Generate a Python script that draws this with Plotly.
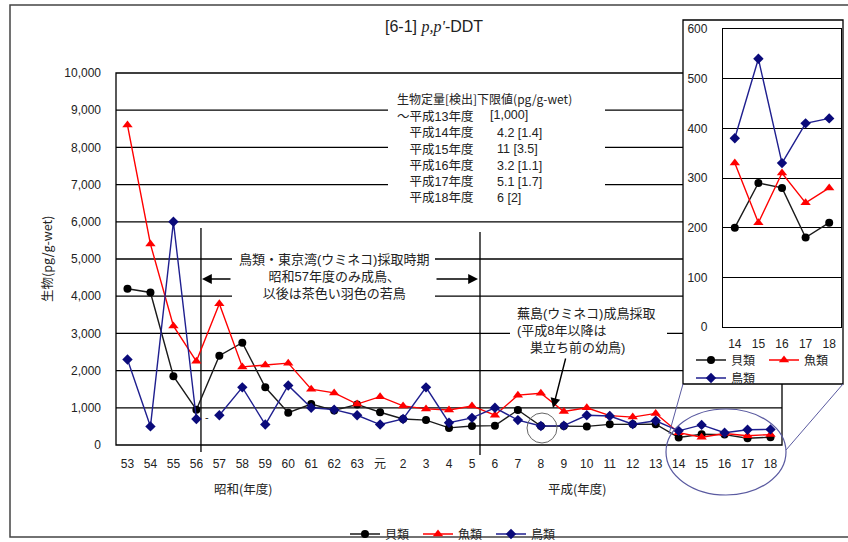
import plotly.graph_objects as go

# Survey years (Showa 53 -> Heisei 18)
years = ["53", "54", "55", "56", "57", "58", "59", "60", "61", "62", "63", "元",
         "2", "3", "4", "5", "6", "7", "8", "9", "10", "11", "12", "13",
         "14", "15", "16", "17", "18"]

# p,p'-DDT concentrations (pg/g-wet)
shellfish = [4200, 4100, 1850, 950, 2400, 2750, 1550, 870, 1100, 930, 1090, 880,
             700, 670, 460, 510, 520, 940, 510, 510, 500, 555, 555, 560,
             200, 290, 280, 180, 210]
fish = [8600, 5400, 3200, 2250, 3800, 2100, 2150, 2200, 1500, 1400, 1100, 1300,
        1050, 970, 940, 1050, 800, 1340, 1390, 900, 1000, 790, 750, 850,
        330, 210, 310, 250, 280]
birds = [2300, 500, 6000, 700, 800, 1550, 550, 1600, 1000, 950, 800, 550,
         700, 1550, 600, 730, 1000, 670, 510, 520, 800, 780, 560, 650,
         380, 540, 330, 410, 420]

series_names = ["貝類", "魚類", "鳥類"]
y_ticks = list(range(0, 10001, 1000))
inset_ticks = list(range(0, 601, 100))
inset_start = 24  # Heisei 14 onward shown in the enlarged panel

# detection limit table: [quantification] detection limit per fiscal year
limit_years = ["～平成13年度", "平成14年度", "平成15年度", "平成16年度", "平成17年度", "平成18年度"]
limit_values = ["[1,000]", "4.2 [1.4]", "11 [3.5]", "3.2 [1.1]", "5.1 [1.7]", "6 [2]"]

W, H = 848, 542


def px(x):
    return x / W


def py(y):
    return 1 - y / H


JP = "Noto Sans CJK JP"
LAT = "Liberation Sans"
MIX = "Liberation Sans, Noto Sans CJK JP"
TXT = "#222222"
C_BLACK, C_RED, C_BLUE = "#1a1a1a", "#ff0000", "#1f1f8f"
LW = 1.4

fig = go.Figure()

# ---- main panel traces ----
fig.add_trace(go.Scatter(
    x=years, y=shellfish, name=series_names[0], mode="lines+markers",
    line=dict(color=C_BLACK, width=LW),
    marker=dict(symbol="circle", size=8, color="#000000"),
    legendgroup="s", legend="legend"))
fig.add_trace(go.Scatter(
    x=years, y=fish, name=series_names[1], mode="lines+markers",
    line=dict(color=C_RED, width=LW),
    marker=dict(symbol="triangle-up", size=9, color=C_RED),
    legendgroup="f", legend="legend"))
# the bird series is broken after Showa 56 (change of sampling)
fig.add_trace(go.Scatter(
    x=years[:4], y=birds[:4], name=series_names[2], mode="lines+markers",
    line=dict(color=C_BLUE, width=LW),
    marker=dict(symbol="diamond", size=8, color="#0a0a7a"),
    legendgroup="b", showlegend=False, legend="legend"))
fig.add_trace(go.Scatter(
    x=years[4:], y=birds[4:], name=series_names[2], mode="lines+markers",
    line=dict(color=C_BLUE, width=LW),
    marker=dict(symbol="diamond", size=8, color="#0a0a7a"),
    legendgroup="b", legend="legend"))

# ---- enlarged panel traces ----
iy = years[inset_start:]
fig.add_trace(go.Scatter(
    x=iy, y=shellfish[inset_start:], name=series_names[0], mode="lines+markers",
    line=dict(color=C_BLACK, width=LW),
    marker=dict(symbol="circle", size=8, color="#000000"),
    xaxis="x2", yaxis="y2", legend="legend2"))
fig.add_trace(go.Scatter(
    x=iy, y=fish[inset_start:], name=series_names[1], mode="lines+markers",
    line=dict(color=C_RED, width=LW),
    marker=dict(symbol="triangle-up", size=9, color=C_RED),
    xaxis="x2", yaxis="y2", legend="legend2"))
fig.add_trace(go.Scatter(
    x=iy, y=birds[inset_start:], name=series_names[2], mode="lines+markers",
    line=dict(color=C_BLUE, width=LW),
    marker=dict(symbol="diamond", size=8, color="#0a0a7a"),
    xaxis="x2", yaxis="y2", legend="legend3"))

shapes = []
# outer frame
shapes.append(dict(type="rect", xref="paper", yref="paper",
                   x0=px(10), x1=px(870), y0=py(537), y1=py(5),
                   line=dict(color="#444444", width=1.5), layer="below"))
# horizontal grid lines of the main panel
for v in y_ticks[1:-1]:
    shapes.append(dict(type="line", xref="paper", yref="y",
                       x0=px(116), x1=px(782), y0=v, y1=v,
                       line=dict(color="#000000", width=1.3), layer="below"))
# plot area border
shapes.append(dict(type="rect", xref="paper", yref="paper",
                   x0=px(116), x1=px(782), y0=py(445), y1=py(73),
                   line=dict(color="#000000", width=1.3), layer="below"))
# white backing behind the text blocks
for (a, b, c, d) in [(388, 84, 605, 207), (232, 250, 435, 303), (510, 300, 667, 356)]:
    shapes.append(dict(type="rect", xref="paper", yref="paper",
                       x0=px(a), x1=px(c), y0=py(d), y1=py(b),
                       fillcolor="white", line=dict(width=0), layer="below"))
# period divider lines
shapes.append(dict(type="line", xref="x", yref="paper", x0=3.2, x1=3.2,
                   y0=py(452), y1=py(228), line=dict(color="#000000", width=1.3),
                   layer="below"))
shapes.append(dict(type="line", xref="x", yref="paper", x0=15.35, x1=15.35,
                   y0=py(455), y1=py(232), line=dict(color="#000000", width=1.3),
                   layer="below"))
# box holding the enlarged panel
shapes.append(dict(type="rect", xref="paper", yref="paper",
                   x0=px(683), x1=px(843), y0=py(384), y1=py(20),
                   fillcolor="white", line=dict(color="#000000", width=1.3),
                   layer="below"))
# highlight ellipse around Heisei 14-18 and guide lines to the panel
shapes.append(dict(type="circle", xref="paper", yref="paper",
                   x0=px(666), x1=px(786), y0=py(495), y1=py(409),
                   line=dict(color="#5a5aa0", width=1.2), layer="above"))
shapes.append(dict(type="line", xref="paper", yref="paper",
                   x0=px(683), x1=px(669), y0=py(384), y1=py(434),
                   line=dict(color="#5a5aa0", width=1.0), layer="above"))
shapes.append(dict(type="line", xref="paper", yref="paper",
                   x0=px(843), x1=px(786), y0=py(384), y1=py(450),
                   line=dict(color="#5a5aa0", width=1.0), layer="above"))
# small circle around Heisei 8
shapes.append(dict(type="circle", xref="paper", yref="paper",
                   x0=px(527), x1=px(557), y0=py(443), y1=py(413),
                   line=dict(color="#666666", width=1.0), layer="above"))

annotations = []


def label(x, y, text, size=12, xanchor="center", yanchor="middle", family=JP, **kw):
    annotations.append(dict(x=px(x), y=py(y), xref="paper", yref="paper",
                            xanchor=xanchor, yanchor=yanchor, showarrow=False,
                            text=text, font=dict(size=size, color=TXT, family=family),
                            **kw))


# title
label(434, 27,
      "[6-1] <span style=\"font-family:'Liberation Serif'\"><i>p,p'</i></span>-DDT",
      size=16, family=LAT)
# y-axis title
label(46, 259, "生物(pg/g-wet)", size=12.5, textangle=-90)
# era labels
label(243, 488, "昭和(年度)", size=12.5)
label(577, 488, "平成(年度)", size=12.5)
# detection limit table
label(395, 98, "生物定量[検出]下限値(pg/g-wet)", size=12, xanchor="left")
label(395, 107, "<br>".join([limit_years[0]] + ["　" + s for s in limit_years[1:]]),
      size=12.5, xanchor="left", yanchor="top", align="left", family=MIX)
label(488, 115, limit_values[0], size=12.5, xanchor="left", family=LAT)
label(495, 123.5, "<br>".join(limit_values[1:]),
      size=12.5, xanchor="left", yanchor="top", align="left", family=LAT)
# sampling notes
label(334, 276, "鳥類・東京湾(ウミネコ)採取時期<br>昭和57年度のみ成鳥、<br>以後は茶色い羽色の若鳥",
      size=13, align="center", family=MIX)
label(515, 330, "蕪島(ウミネコ)成鳥採取<br>(平成8年以降は<br>　巣立ち前の幼鳥)",
      size=13, xanchor="left", align="left", family=MIX)
# arrows
for (hx, hy, ax, ay) in [(202, 279, 30, 0), (478, 279, -43, 0), (553, 408, 13, -51)]:
    annotations.append(dict(x=px(hx), y=py(hy), xref="paper", yref="paper",
                            ax=ax, ay=ay, text="", showarrow=True,
                            arrowhead=2, arrowsize=1.4, arrowwidth=1.4,
                            arrowcolor="#000000", standoff=0, startstandoff=0))
# break marker in the bird series
label(207, 417, "-", size=11, family=LAT)

legend_common = dict(orientation="h", xanchor="left", yanchor="middle",
                     bgcolor="rgba(0,0,0,0)", entrywidth=28, entrywidthmode="pixels",
                     itemwidth=30, font=dict(size=12, color=TXT, family=JP),
                     tracegroupgap=0)

fig.update_layout(
    width=W, height=H,
    margin=dict(l=0, r=0, t=0, b=0, autoexpand=False),
    paper_bgcolor="white", plot_bgcolor="white",
    font=dict(family=MIX, color=TXT, size=12),
    showlegend=True,
    xaxis=dict(domain=[px(116), px(782)], type="category", categoryarray=years,
               range=[-0.5, 28.5], showgrid=False, showline=False, zeroline=False,
               ticks="", ticklabelstandoff=10, tickfont=dict(size=12, color=TXT),
               fixedrange=True),
    yaxis=dict(domain=[py(445), py(73)], range=[0, 10000], tickvals=y_ticks,
               tickformat=",d", showgrid=False, showline=False, zeroline=False,
               ticks="", ticklabelstandoff=14, tickfont=dict(size=12, color=TXT),
               fixedrange=True),
    xaxis2=dict(domain=[px(723), px(841)], anchor="y2", type="category",
                categoryarray=iy, range=[-0.5, 4.5], showgrid=False,
                showline=True, mirror=True, linecolor="#000000", linewidth=1.3,
                zeroline=False, ticks="", ticklabelstandoff=5,
                tickfont=dict(size=12, color=TXT), fixedrange=True),
    yaxis2=dict(domain=[py(327), py(29)], anchor="x2", range=[0, 600],
                tickvals=inset_ticks, showgrid=True, gridcolor="#000000",
                gridwidth=1.3, showline=True, mirror=True, linecolor="#000000",
                linewidth=1.3, zeroline=False, ticks="", ticklabelstandoff=12,
                tickfont=dict(size=12, color=TXT), fixedrange=True),
    legend=dict(x=px(345), y=py(534), **legend_common),
    legend2=dict(x=px(691), y=py(360), **legend_common),
    legend3=dict(x=px(691), y=py(378), **legend_common),
    shapes=shapes,
    annotations=annotations,
)

fig.write_html("out.html")
